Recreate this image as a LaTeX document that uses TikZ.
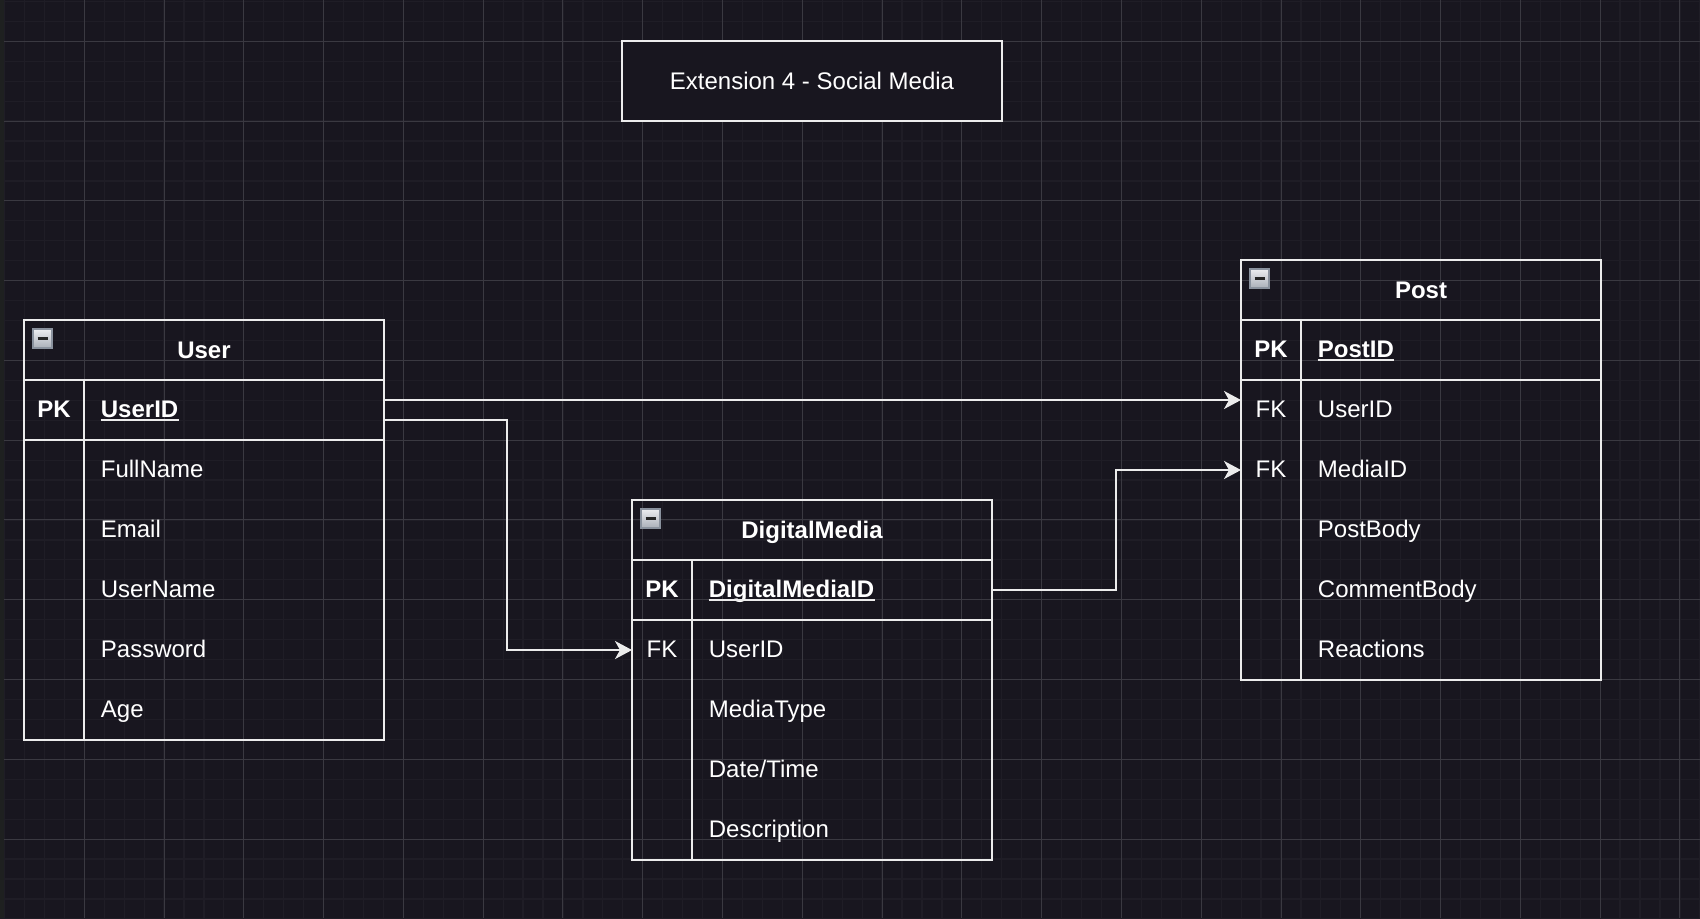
\documentclass[tikz,border=0pt]{standalone}
\usepackage{fontspec}
\setmainfont{Liberation Sans}
\usetikzlibrary{arrows.meta,calc}
\definecolor{bg}{RGB}{24,22,31}
\definecolor{gminor}{RGB}{31,29,38}
\definecolor{gmajor}{RGB}{58,57,65}
\definecolor{edgestrip}{RGB}{30,32,32}
\definecolor{ln}{RGB}{236,236,236}
\definecolor{icoborder}{RGB}{138,146,158}
\definecolor{icotop}{RGB}{236,237,240}
\definecolor{icobot}{RGB}{170,175,184}
\newcommand\erow[5]{%
  \node[rowbox, anchor=north west] (#1) at (#2,#3) {};
  \node[keytxt] at ($(#1.west)+(30,7)$) {#4};
  \node[fldtxt] at ($(#1.west)+(76.5,7.5)$) {#5};
}
\newcommand\erpk[4]{%
  \node[rowbox, anchor=north west] (#1) at (#2,#3) {};
  \node[keytxt, font=\fontsize{12}{14}\selectfont\bfseries] at ($(#1.west)+(30,7)$) {PK};
  \node[fldtxt, font=\fontsize{12}{14}\selectfont\bfseries] (#1-name) at ($(#1.west)+(76.5,7)$) {#4};
  \draw[ln, line width=0.75pt] ($(#1-name.base west)+(0,2.8)$) -- ($(#1-name.base east)+(0,2.8)$);
}
\newcommand\ericon[2]{%
  \draw[icoborder, line width=1pt, top color=icotop, bottom color=icobot] (#1,#2) rectangle ++(19,19);
  \draw[black!85, line width=1.5pt] ($(#1,#2)+(4.5,9.5)$) -- ++(10,0);
}
\begin{document}
\begin{tikzpicture}[x=0.5pt,y=-0.5pt,
  rowbox/.style={minimum width=180pt, minimum height=30pt, inner sep=0pt, outer sep=0pt, draw=none},
  keytxt/.style={anchor=base, inner sep=0pt, text=white, font=\fontsize{12}{14}\selectfont},
  fldtxt/.style={anchor=base west, inner sep=0pt, text=white, font=\fontsize{12}{14}\selectfont},
  hdr/.style={anchor=base, inner sep=0pt, text=white, font=\fontsize{12}{14}\selectfont\bfseries},
  tline/.style={draw=ln, line width=1pt},
  conn/.style={draw=ln, line width=1pt, -{Stealth[length=8.5pt, width=9pt, inset=2.5pt]}},
]
\useasboundingbox (0,0) rectangle (1700,918);
\fill[bg] (0,0) rectangle (1700,918);
% grid
\foreach \i in {0,...,85} { \draw[gminor, line width=0.6pt] ({4.5+\i*19.945},0) -- ({4.5+\i*19.945},918); }
\foreach \i in {0,...,46} { \draw[gminor, line width=0.6pt] (0,{1.4+\i*19.945}) -- (1700,{1.4+\i*19.945}); }
\foreach \i in {0,...,20} { \draw[gmajor, line width=0.5pt] ({84.3+\i*79.78},0) -- ({84.3+\i*79.78},918); }
\foreach \i in {0,...,10} { \draw[gmajor, line width=0.5pt] (0,{41.3+\i*79.78}) -- (1700,{41.3+\i*79.78}); }
\fill[edgestrip] (0,0) rectangle (4,918);

% title
\node[draw=ln, line width=1pt, fill=bg, minimum width=190pt, minimum height=40pt, inner sep=0pt, outer sep=0pt, anchor=north west,
  text=white, font=\fontsize{12}{14}\selectfont] (title) at (622,40.5) {Extension 4 - Social Media};

% ---------- User ----------
\node[tline, minimum width=180pt, minimum height=210pt, inner sep=0pt, outer sep=0pt, anchor=north west] (user) at (24,320) {};
\node[hdr] (user-h) at (204,358) {User};
\ericon{33}{329}
\erpk{user-pk}{24}{380}{UserID}
\erow{user-r1}{24}{440}{}{FullName}
\erow{user-r2}{24}{500}{}{Email}
\erow{user-r3}{24}{560}{}{UserName}
\erow{user-r4}{24}{620}{}{Password}
\erow{user-r5}{24}{680}{}{Age}
\draw[tline] (user-pk.north west) -- (user-pk.north east);
\draw[tline] (user-pk.south west) -- (user-pk.south east);
\draw[tline] ($(user-pk.north west)+(60,0)$) -- ($(user.south west)+(60,0)$);

% ---------- Post ----------
\node[tline, minimum width=180pt, minimum height=210pt, inner sep=0pt, outer sep=0pt, anchor=north west] (post) at (1241,260) {};
\node[hdr] (post-h) at (1421,298) {Post};
\ericon{1250}{269}
\erpk{post-pk}{1241}{320}{PostID}
\erow{post-r1}{1241}{380}{FK}{UserID}
\erow{post-r2}{1241}{440}{FK}{MediaID}
\erow{post-r3}{1241}{500}{}{PostBody}
\erow{post-r4}{1241}{560}{}{CommentBody}
\erow{post-r5}{1241}{620}{}{Reactions}
\draw[tline] (post-pk.north west) -- (post-pk.north east);
\draw[tline] (post-pk.south west) -- (post-pk.south east);
\draw[tline] ($(post-pk.north west)+(60,0)$) -- ($(post.south west)+(60,0)$);

% ---------- DigitalMedia ----------
\node[tline, minimum width=180pt, minimum height=180pt, inner sep=0pt, outer sep=0pt, anchor=north west] (dm) at (632,500) {};
\node[hdr] (dm-h) at (812,538) {DigitalMedia};
\ericon{641}{509}
\erpk{dm-pk}{632}{560}{DigitalMediaID}
\erow{dm-r1}{632}{620}{FK}{UserID}
\erow{dm-r2}{632}{680}{}{MediaType}
\erow{dm-r3}{632}{740}{}{Date/Time}
\erow{dm-r4}{632}{800}{}{Description}
\draw[tline] (dm-pk.north west) -- (dm-pk.north east);
\draw[tline] (dm-pk.south west) -- (dm-pk.south east);
\draw[tline] ($(dm-pk.north west)+(60,0)$) -- ($(dm.south west)+(60,0)$);

% ---------- connectors ----------
\coordinate (bend1) at (507,0);
\coordinate (bend2) at (1116,0);
\coordinate (u-out1) at ($(user-pk.east)+(0,-10)$);
\coordinate (u-out2) at ($(user-pk.east)+(0,10)$);
\coordinate (p-in1) at ($(post-r1.west)+(0,-10)$);
\draw[conn] (u-out1) -- (p-in1);
\draw[conn] (u-out2) -- (u-out2 -| bend1) |- (dm-r1.west);
\draw[conn] (dm-pk.east) -- (dm-pk.east -| bend2) |- (post-r2.west);
\end{tikzpicture}
\end{document}
